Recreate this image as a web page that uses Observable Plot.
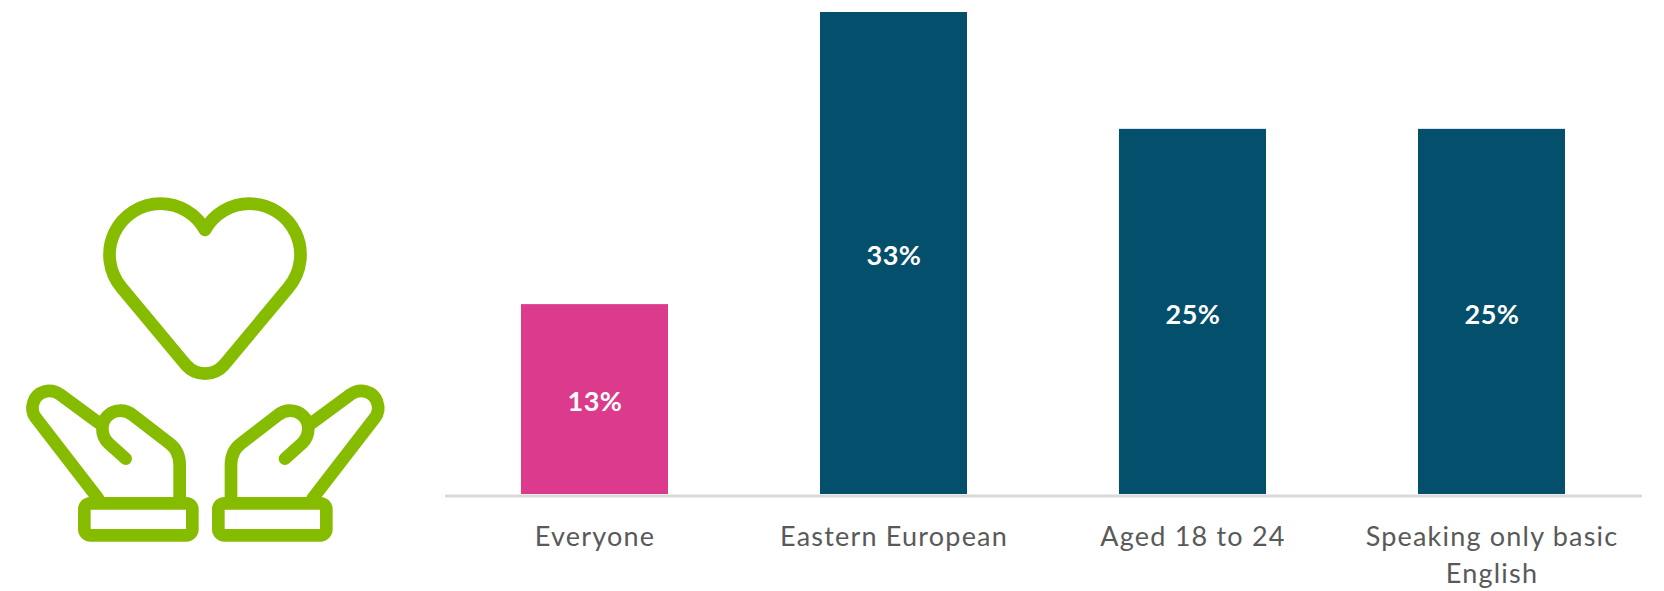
<!DOCTYPE html>
<html>
<head>
<meta charset="utf-8">
<script src="https://cdn.jsdelivr.net/npm/d3@7"></script>
<script src="https://cdn.jsdelivr.net/npm/@observablehq/plot@0.6"></script>
<style>
  html, body { margin: 0; padding: 0; background: #fff; }
  #stage { position: relative; width: 1664px; height: 591px; overflow: hidden; }
  #stage > svg { position: absolute; display: block; }
  #icon { left: 0; top: 180px; }
  g[aria-label="x-axis tick label"] text { letter-spacing: 1.2px; }
  g[aria-label="text"] text { letter-spacing: 0.5px; }
</style>
</head>
<body>
<div id="stage">
  <!-- Two open hands holding up a heart -->
  <svg id="icon" width="420" height="380" viewBox="0 0 1260 1140" fill="none"
       stroke="#86bc00" stroke-width="38" stroke-linecap="round" stroke-linejoin="round">
    <path d="M615,150 A153,153 0 0 0 482,71 A153,153 0 0 0 364,322 L558,555 A76,76 0 0 0 672,555
             L866,322 A153,153 0 0 0 748,71 A153,153 0 0 0 615,150 Z"/>
    <g id="hand">
      <path d="M294,727 L180,643 C150,622 112,635 101,665 C94,685 97,700 107,713 L294,955"/>
      <path d="M377,836 L326,790 C312,778 307,762 307,745 C307,715 332,692 362,692
               C375,692 387,696 398,705 L508,790 C528,805 539,828 539,855 L539,965"/>
      <rect x="253" y="970" width="324" height="96" rx="18"/>
    </g>
    <use href="#hand" transform="translate(1232,0) scale(-1,1)"/>
  </svg>
</div>
<script>
const categories = ["Everyone", "Eastern European", "Aged 18 to 24", "Speaking only basic\nEnglish"];
const shares = [13, 33, 25, 25];
const barColors = ["#db3a8d", "#044f6c", "#044f6c", "#044f6c"];

const rows = categories.map((category, i) => ({category, share: shares[i], color: barColors[i]}));

const chart = Plot.plot({
  width: 1664,
  height: 591,
  marginLeft: 445,
  marginRight: 22,
  marginTop: 12,
  marginBottom: 97,
  style: {fontFamily: "Lato, sans-serif", background: "transparent"},
  x: {domain: categories, paddingInner: 0.507, paddingOuter: 0.2535, align: 0.5, label: null},
  y: {domain: [0, 33], axis: null},
  marks: [
    Plot.axisX({
      label: null,
      tickSize: 0,
      tickPadding: 25,
      fontSize: 27,
      lineHeight: 1.37,
      color: "#595959"
    }),
    Plot.ruleY([0], {stroke: "#d9d9d9", strokeWidth: 3, dy: 1.5}),
    Plot.barY(rows, {x: "category", y: "share", fill: "color"}),
    Plot.text(rows, {
      x: "category",
      y: d => d.share / 2,
      text: d => `${d.share}%`,
      fill: "white",
      fontSize: 27,
      fontWeight: 700,
      dy: 3
    })
  ]
});
document.getElementById("stage").append(chart);
</script>
</body>
</html>
